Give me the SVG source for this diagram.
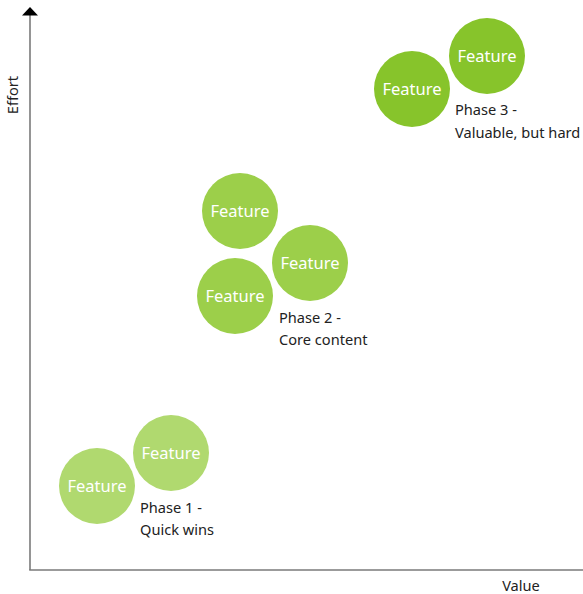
<svg xmlns="http://www.w3.org/2000/svg" width="583" height="594" viewBox="0 0 583 594">
<style>
.ax{stroke:#7a7a7a;stroke-width:1.6;fill:none}
.ft{font-family:"Noto Sans","Open Sans",sans-serif;font-size:16.5px;fill:#fff;text-anchor:middle}
.lb{font-family:"Noto Sans","Open Sans",sans-serif;font-size:14.6px;fill:#222}
.p1{fill:#b0d96f}
.p2{fill:#9ccf4a}
.p3{fill:#87c42b}
</style>
<rect width="583" height="594" fill="#fff"/>
<g id="axes">
<line class="ax" x1="30" y1="14" x2="30" y2="570"/>
<line class="ax" x1="29.2" y1="570" x2="583" y2="570"/>
<polygon points="30,7 22,15.5 38,15.5" fill="#000"/>
<text class="lb" transform="translate(18,95) rotate(-90)" text-anchor="middle">Effort</text>
<text class="lb" x="521" y="591" text-anchor="middle">Value</text>
</g>
<g id="connectors"></g>
<g id="phase3">
<g id="f3a"><circle class="p3" cx="412" cy="89" r="38"/><text class="ft" x="412" y="95">Feature</text></g>
<g id="f3b"><circle class="p3" cx="487" cy="56" r="38"/><text class="ft" x="487" y="62">Feature</text></g>
<text class="lb" x="455" y="115">Phase 3 -</text>
<text class="lb" x="455" y="138">Valuable, but hard</text>
</g>
<g id="phase2">
<g id="f2a"><circle class="p2" cx="240" cy="211" r="38"/><text class="ft" x="240" y="217">Feature</text></g>
<g id="f2b"><circle class="p2" cx="310" cy="263" r="38"/><text class="ft" x="310" y="269">Feature</text></g>
<g id="f2c"><circle class="p2" cx="235" cy="296" r="38"/><text class="ft" x="235" y="302">Feature</text></g>
<text class="lb" x="279" y="323">Phase 2 -</text>
<text class="lb" x="279" y="345">Core content</text>
</g>
<g id="phase1">
<g id="f1a"><circle class="p1" cx="97" cy="486" r="38"/><text class="ft" x="97" y="492">Feature</text></g>
<g id="f1b"><circle class="p1" cx="171" cy="453" r="38"/><text class="ft" x="171" y="459">Feature</text></g>
<text class="lb" x="140" y="513">Phase 1 -</text>
<text class="lb" x="140" y="535">Quick wins</text>
</g>
</svg>
